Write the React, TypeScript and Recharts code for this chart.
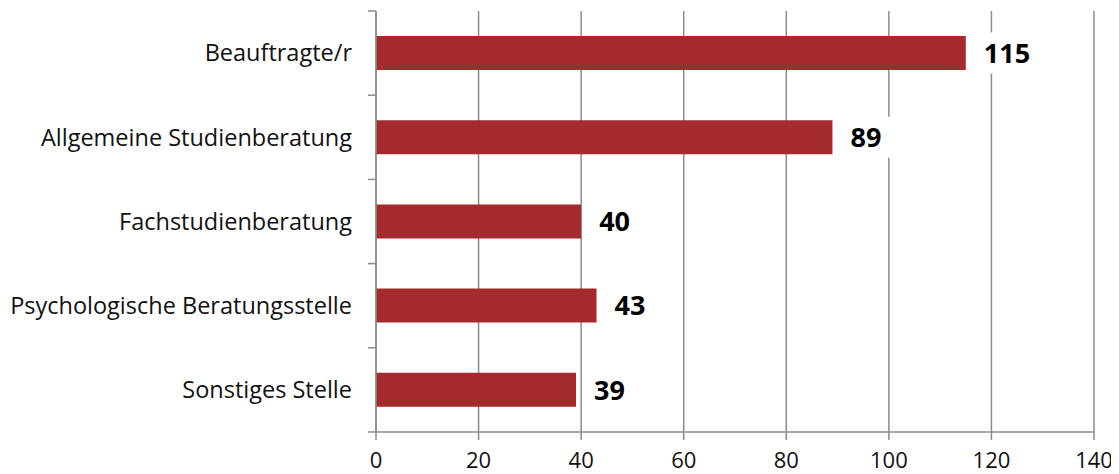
import React from "react"
import { BarChart, Bar, XAxis, YAxis, CartesianGrid, LabelList } from "recharts"

// categories top to bottom, counts
const stellen = [
  "Beauftragte/r",
  "Allgemeine Studienberatung",
  "Fachstudienberatung",
  "Psychologische Beratungsstelle",
  "Sonstiges Stelle",
]
const anzahl = [115, 89, 40, 43, 39]
const xTicks = [0, 20, 40, 60, 80, 100, 120, 140]

const data = stellen.map((name, i) => ({ name, anzahl: anzahl[i] }))

const FONT = "'Open Sans', sans-serif"
const GRID = "#8c8c8c"
const BAR = "#a52a2e"
const BAND = 84.2

// Excel-style category axis: label at band centre, tick marks at band edges
const CategoryTick = (props: any) => {
  const { x, y, payload, index } = props
  return (
    <g>
      <line x1={x - 8} x2={x} y1={y - BAND / 2} y2={y - BAND / 2} stroke={GRID} strokeWidth={1.5} />
      {index === stellen.length - 1 && (
        <line x1={x - 8} x2={x} y1={y + BAND / 2} y2={y + BAND / 2} stroke={GRID} strokeWidth={1.5} />
      )}
      <text x={x - 24} y={y} dy="0.35em" textAnchor="end" fontFamily={FONT} fontSize={23.5} fill="#111">
        {payload.value}
      </text>
    </g>
  )
}

const ValueLabel = (props: any) => {
  const { x, y, width, height, value } = props
  const end = x + width
  const cy = y + height / 2
  const w = String(value).length * 16 + 24
  return (
    <g>
      <rect x={end + 9} y={cy - 20.5} width={w} height={41} fill="#fff" />
      <text x={end + 18} y={cy} dy="0.36em" fontFamily={FONT} fontWeight={700} fontSize={27} fill="#000">
        {value}
      </text>
    </g>
  )
}

export default function App() {
  return (
    <div style={{ width: 1111, height: 466 }}>
      <BarChart
        width={1111}
        height={466}
        data={data}
        layout="vertical"
        margin={{ top: 3, right: 25, left: 0, bottom: 0 }}
        barSize={34}
      >
        <CartesianGrid horizontal={false} vertical stroke={GRID} strokeWidth={1.5} />
        <XAxis
          type="number"
          domain={[0, 140]}
          ticks={xTicks}
          interval={0}
          height={42}
          axisLine={{ stroke: GRID, strokeWidth: 1.5 }}
          tickLine={{ stroke: GRID, strokeWidth: 1.5 }}
          tickSize={8}
          tickMargin={12}
          tick={{ fontFamily: FONT, fontSize: 22, fill: "#111" }}
        />
        <YAxis
          type="category"
          dataKey="name"
          width={368}
          interval={0}
          tickSize={0}
          tickMargin={0}
          tickLine={false}
          axisLine={{ stroke: GRID, strokeWidth: 1.5 }}
          tick={<CategoryTick />}
        />
        <Bar dataKey="anzahl" fill={BAR} isAnimationActive={false}>
          <LabelList dataKey="anzahl" content={<ValueLabel />} />
        </Bar>
      </BarChart>
    </div>
  )
}
